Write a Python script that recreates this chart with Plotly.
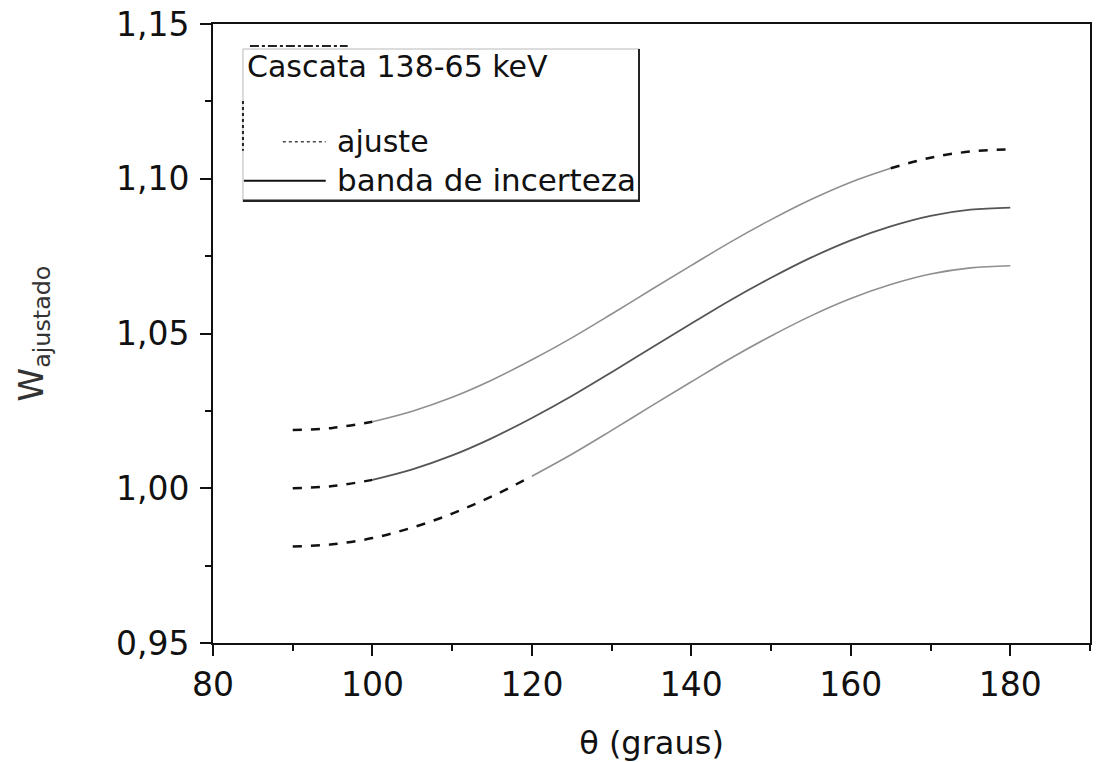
import plotly.graph_objects as go

# ---- data ----
theta = [90, 95, 100, 105, 110, 115, 120, 125, 130, 135, 140, 145, 150, 155, 160, 165, 170, 175, 180]
w_ajuste = [1.0000, 1.0007, 1.0027, 1.0061, 1.0106, 1.0162, 1.0227, 1.0298, 1.0375, 1.0454,
            1.0532, 1.0609, 1.0680, 1.0745, 1.0801, 1.0846, 1.0880, 1.0900, 1.0907]
w_sup = [1.0188, 1.0195, 1.0215, 1.0249, 1.0294, 1.0350, 1.0415, 1.0486, 1.0563, 1.0642,
         1.0720, 1.0797, 1.0868, 1.0933, 1.0989, 1.1034, 1.1068, 1.1088, 1.1095]
w_inf = [0.9812, 0.9819, 0.9839, 0.9873, 0.9918, 0.9974, 1.0039, 1.0110, 1.0187, 1.0266,
         1.0344, 1.0421, 1.0492, 1.0557, 1.0613, 1.0658, 1.0692, 1.0712, 1.0719]
x_ticks = [80, 100, 120, 140, 160, 180]
y_ticks = [0.95, 1.00, 1.05, 1.10, 1.15]

FONT = "DejaVu Sans"
fig = go.Figure()

def seg(xs, ys, color, width, dash, name):
    fig.add_trace(go.Scatter(x=xs, y=ys, mode="lines", name=name, showlegend=False,
                             line=dict(color=color, width=width, dash=dash, shape="spline",
                                       smoothing=1.0),
                             hoverinfo="x+y"))

# central fit curve ("ajuste")
seg(theta[0:3], w_ajuste[0:3], "#111111", 2.5, "dash", "ajuste")
seg(theta[2:], w_ajuste[2:], "#555555", 1.8, "solid", "ajuste")
# upper uncertainty band
seg(theta[0:3], w_sup[0:3], "#111111", 2.5, "dash", "banda de incerteza")
seg(theta[2:16], w_sup[2:16], "#8f8f8f", 1.6, "solid", "banda de incerteza")
seg(theta[15:], w_sup[15:], "#111111", 2.5, "dash", "banda de incerteza")
# lower uncertainty band
seg(theta[0:7], w_inf[0:7], "#111111", 2.5, "dash", "banda de incerteza")
seg(theta[6:], w_inf[6:], "#8f8f8f", 1.6, "solid", "banda de incerteza")

# ---- manual legend box (paper coordinates) ----
L, R, T, B = 213, 1092, 23, 643
def px(x):
    return (x - L) / (R - L)
def py(y):
    return (B - y) / (B - T)

shapes = [
    dict(type="line", xref="paper", yref="paper", x0=px(243), x1=px(640), y0=py(48), y1=py(48),
         line=dict(color="#d0d0d0", width=1.5)),
    dict(type="line", xref="paper", yref="paper", x0=px(243), x1=px(243), y0=py(48), y1=py(200),
         line=dict(color="#d0d0d0", width=1.5)),
    dict(type="line", xref="paper", yref="paper", x0=px(640), x1=px(640), y0=py(48), y1=py(201),
         line=dict(color="#222222", width=2)),
    dict(type="line", xref="paper", yref="paper", x0=px(243), x1=px(641), y0=py(200), y1=py(200),
         line=dict(color="#222222", width=2.5)),
    dict(type="line", xref="paper", yref="paper", x0=px(250), x1=px(348), y0=py(45), y1=py(45),
         line=dict(color="#222222", width=2, dash="dashdot")),
    dict(type="line", xref="paper", yref="paper", x0=px(243), x1=px(243), y0=py(100), y1=py(150),
         line=dict(color="#222222", width=2, dash="dot")),
    dict(type="line", xref="paper", yref="paper", x0=px(283), x1=px(326), y0=py(141), y1=py(141),
         line=dict(color="#444444", width=1.5, dash="dot")),
    dict(type="line", xref="paper", yref="paper", x0=px(244), x1=px(326), y0=py(180), y1=py(180),
         line=dict(color="#111111", width=1.8)),
]

annotations = [
    dict(text="Cascata 138-65 keV", xref="paper", yref="paper", x=px(245), y=py(66),
         xanchor="left", yanchor="middle", showarrow=False,
         font=dict(family=FONT, size=30, color="#111111")),
    dict(text="ajuste", xref="paper", yref="paper", x=px(335), y=py(141),
         xanchor="left", yanchor="middle", showarrow=False,
         font=dict(family=FONT, size=30, color="#111111")),
    dict(text="banda de incerteza", xref="paper", yref="paper", x=px(335), y=py(179),
         xanchor="left", yanchor="middle", showarrow=False,
         font=dict(family=FONT, size=31, color="#111111")),
]

fig.update_layout(
    width=1097, height=762,
    margin=dict(l=L, r=1097 - R, t=T, b=762 - B),
    paper_bgcolor="white", plot_bgcolor="white",
    separators=", ",
    showlegend=False,
    font=dict(family=FONT, size=33, color="#111111"),
    shapes=shapes, annotations=annotations,
    xaxis=dict(range=[80, 190], tickvals=x_ticks, ticks="outside", ticklen=11, tickwidth=2,
               tickcolor="#111111", showline=True, linecolor="#111111", linewidth=2,
               mirror=True, showgrid=False, zeroline=False,
               minor=dict(dtick=10, ticks="outside", ticklen=6, tickwidth=1.5, tickcolor="#111111"),
               tickfont=dict(family=FONT, size=33, color="#111111"),
               title=dict(text="θ (graus)", font=dict(family=FONT, size=32, color="#111111"),
                          standoff=30)),
    yaxis=dict(range=[0.95, 1.15], tickvals=y_ticks, tickformat=".2f", ticks="outside",
               ticklen=11, tickwidth=2, tickcolor="#111111", showline=True,
               linecolor="#111111", linewidth=2, mirror=True, showgrid=False, zeroline=False,
               ticklabelstandoff=4,
               minor=dict(dtick=0.025, ticks="outside", ticklen=6, tickwidth=1.5, tickcolor="#111111"),
               tickfont=dict(family=FONT, size=33, color="#111111"),
               title=dict(text="W<sub>ajustado</sub>", font=dict(family=FONT, size=34, color="#333333"),
                          standoff=62)),
)

fig.write_html("out.html")
